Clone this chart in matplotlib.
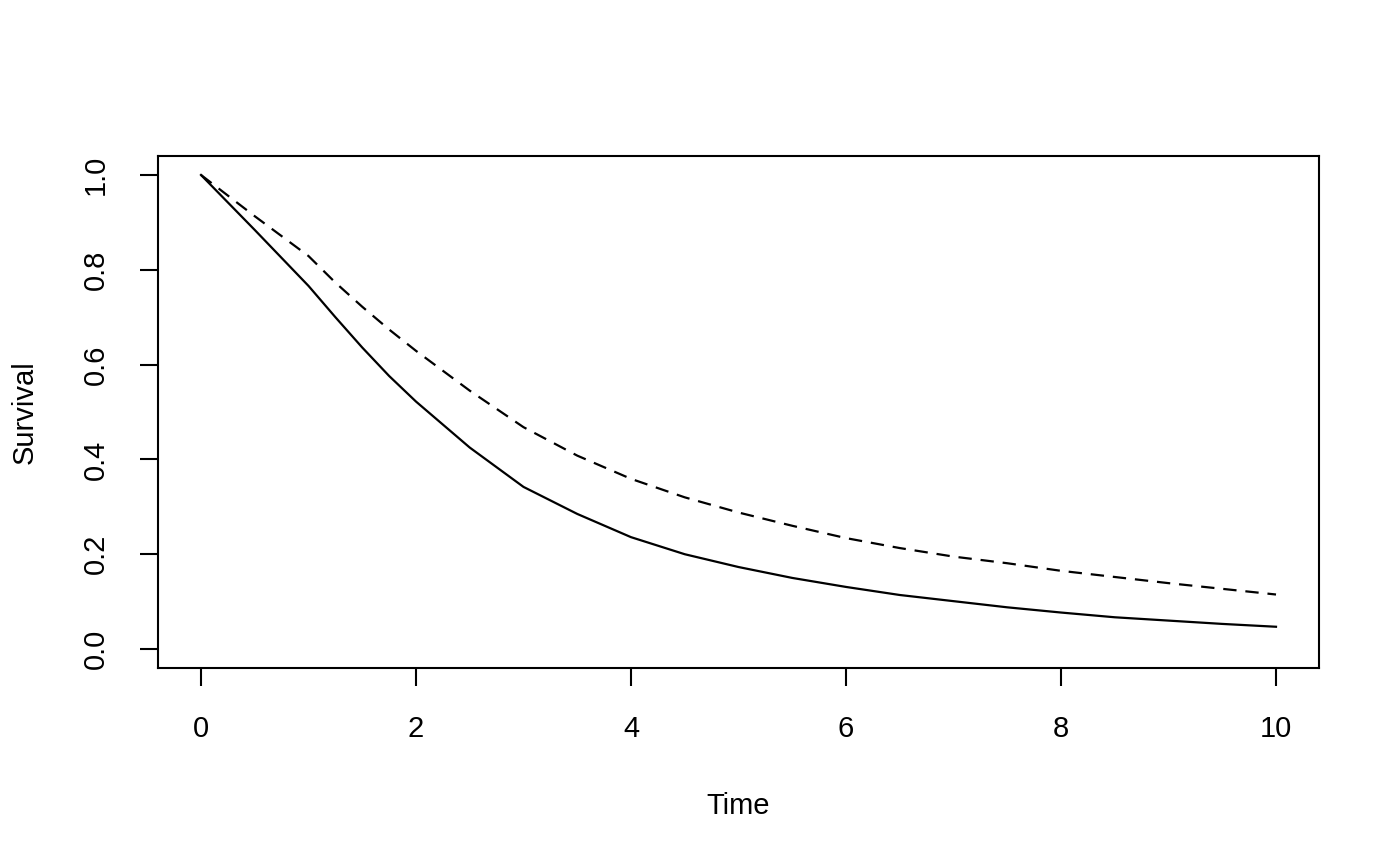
import matplotlib
matplotlib.use("Agg")
import matplotlib.pyplot as plt

plt.rcParams['font.family'] = ['Liberation Sans', 'DejaVu Sans']

time = [0, 0.5, 1, 1.25, 1.5, 1.75, 2, 2.5, 3, 3.5, 4, 4.5, 5, 5.5, 6,
        6.5, 7, 7.5, 8, 8.5, 9, 9.5, 10]
surv_solid = [1.0, 0.884, 0.766, 0.700, 0.636, 0.576, 0.522, 0.425, 0.342,
              0.285, 0.236, 0.200, 0.173, 0.150, 0.131, 0.114, 0.101, 0.088,
              0.077, 0.067, 0.060, 0.053, 0.047]
surv_dashed = [1.0, 0.913, 0.829, 0.773, 0.722, 0.674, 0.629, 0.545, 0.468,
               0.408, 0.359, 0.320, 0.288, 0.260, 0.234, 0.213, 0.195, 0.181,
               0.165, 0.152, 0.139, 0.127, 0.115]
xticks = [0, 2, 4, 6, 8, 10]
yticks = [0.0, 0.2, 0.4, 0.6, 0.8, 1.0]

fig = plt.figure(figsize=(14, 8.65), dpi=100)
ax = fig.add_axes([158/1400, (865-668)/865, 1161/1400, 512/865])

ax.plot(time, surv_solid, color='black', lw=1.6, solid_joinstyle='round')
ax.plot(time, surv_dashed, color='black', lw=1.6, linestyle=(0, (6, 4)))

ax.set_xlim(-0.4, 10.4)
ax.set_ylim(-0.04, 1.04)
ax.set_xticks(xticks)
ax.set_xticklabels([str(v) for v in xticks])
ax.set_yticks(yticks)
ax.set_yticklabels([f"{v:.1f}" for v in yticks], rotation=90, va='center')

for s in ax.spines.values():
    s.set_linewidth(1.5)
ax.tick_params(axis='both', length=13, width=1.5, labelsize=21, direction='out')
ax.tick_params(axis='x', pad=21)
ax.tick_params(axis='y', pad=22)

ax.set_xlabel('Time', fontsize=21, va='center')
ax.xaxis.set_label_coords(0.5, (668-806)/512)
ax.set_ylabel('Survival', fontsize=21, va='center')
ax.yaxis.set_label_coords((25-158)/1161, 0.5)

fig.savefig('out.png', dpi=100)
